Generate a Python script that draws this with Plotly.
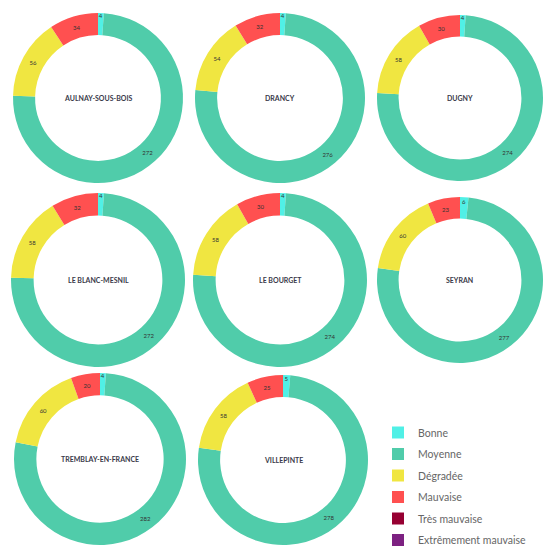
import plotly.graph_objects as go

W, H = 543, 546

categories = ["Bonne", "Moyenne", "Dégradée", "Mauvaise", "Très mauvaise", "Extrêmement mauvaise"]
colors = ["#50F0E6", "#50CCAA", "#F0E641", "#FF5050", "#960032", "#7D2181"]

aulnay = [4, 272, 56, 34, 0, 0]
drancy = [4, 276, 54, 32, 0, 0]
dugny = [4, 274, 58, 30, 0, 0]
blanc_mesnil = [4, 272, 58, 32, 0, 0]
bourget = [4, 274, 58, 30, 0, 0]
sevran = [6, 277, 60, 23, 0, 0]
tremblay = [4, 282, 60, 20, 0, 0]
villepinte = [5, 278, 58, 25, 0, 0]

cities = ["AULNAY-SOUS-BOIS", "DRANCY", "DUGNY", "LE BLANC-MESNIL", "LE BOURGET",
          "SEYRAN", "TREMBLAY-EN-FRANCE", "VILLEPINTE"]
series = [aulnay, drancy, dugny, blanc_mesnil, bourget, sevran, tremblay, villepinte]

# pixel centers/radius of each donut (layout only)
centers = [(98, 98, 85), (280, 98, 85), (460, 98, 83),
           (98, 280, 87), (280, 280, 87), (460, 280, 83),
           (100, 459, 86), (283, 460, 85)]


def clamp(v):
    return min(1.0, max(0.0, v))


fig = go.Figure()
annotations = []
for i, (name, vals) in enumerate(zip(cities, series)):
    cx, cy, R = centers[i]
    x0, x1 = clamp((cx - R) / W), clamp((cx + R) / W)
    y0, y1 = clamp(1 - (cy + R) / H), clamp(1 - (cy - R) / H)
    fig.add_trace(go.Pie(
        labels=categories, values=vals, sort=False, direction="clockwise",
        rotation=0, hole=0.74,
        marker=dict(colors=colors, line=dict(width=0)),
        text=[str(v) if v > 0 else "" for v in vals],
        textinfo="text", textposition="inside",
        insidetextorientation="horizontal",
        textfont=dict(size=6, color="#333333", family="Lato"),
        domain=dict(x=[x0, x1], y=[y0, y1]),
        showlegend=False, hoverinfo="label+value",
    ))
    annotations.append(dict(
        x=cx / W, y=1 - cy / H, xref="paper", yref="paper",
        xanchor="center", yanchor="middle",
        text="<b>" + name + "</b>", showarrow=False,
        font=dict(size=7, color="#3a3a4a", family="Lato"),
    ))

# legend entries (one per category)
for cat, col in zip(categories, colors):
    fig.add_trace(go.Scatter(
        x=[None], y=[None], mode="markers", name=cat, legendgroup=cat,
        marker=dict(symbol="square", size=7, color=col, line=dict(width=0)),
        showlegend=True, hoverinfo="skip",
    ))

fig.update_layout(
    width=W, height=H,
    margin=dict(l=0, r=0, t=0, b=0, autoexpand=False),
    paper_bgcolor="white", plot_bgcolor="white",
    annotations=annotations,
    xaxis=dict(visible=False), yaxis=dict(visible=False),
    legend=dict(x=378 / W, y=1 - 418 / H, xanchor="left", yanchor="top",
                font=dict(size=10.5, color="#666666", family="Lato"),
                tracegroupgap=2.5, itemsizing="constant",
                bgcolor="rgba(0,0,0,0)"),
    uniformtext=dict(minsize=6, mode="show"),
)
fig.write_html("out.html", config={"displayModeBar": False},
               post_script="document.body.style.margin='0';document.body.style.overflow='hidden';")
